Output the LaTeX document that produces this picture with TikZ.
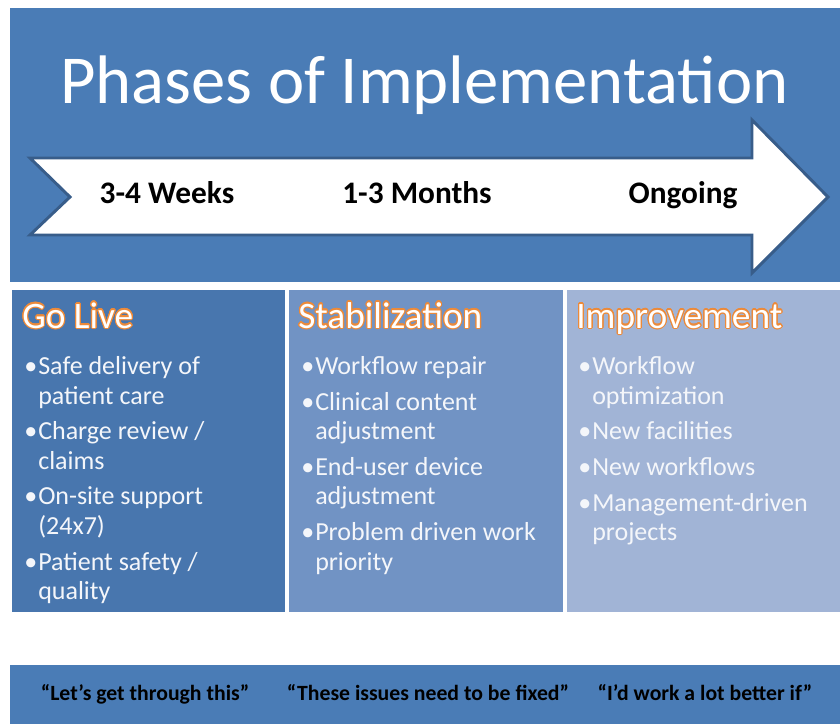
\documentclass[tikz,border=0pt]{standalone}
\usepackage{fontspec}
\setmainfont{Carlito}
\usepackage{contour}
\usetikzlibrary{positioning}
\contourlength{0.9pt}
\contournumber{20}
\definecolor{TopBlue}{RGB}{74,124,182}
\definecolor{EdgeBlue}{RGB}{56,93,138}
\definecolor{LiveBlue}{RGB}{72,118,174}
\definecolor{StabBlue}{RGB}{113,147,196}
\definecolor{ImpBlue}{RGB}{161,180,214}
\definecolor{GlowOrange}{RGB}{236,138,58}
\definecolor{ItemWhite}{RGB}{244,246,250}
% bullet cell and item gap of a phase list
\newcommand{\bul}{\makebox[10.5pt][l]{\textbullet}}
\newcommand{\gap}{\\[4.8pt]}
\newcommand{\phasehead}[1]{\contour{GlowOrange}{\textcolor{white}{#1}}}

\begin{document}
\begin{tikzpicture}[x=0.75pt,y=-0.75pt,
    headtxt/.style={anchor=base west,inner sep=0pt,font=\fontsize{28}{30}\selectfont},
    listtxt/.style={anchor=north west,inner sep=0pt,
      text=ItemWhite,font=\fontsize{19.5}{22}\selectfont},
    steptxt/.style={anchor=base,inner sep=0pt,font=\bfseries\fontsize{23.5}{26}\selectfont},
    quotetxt/.style={anchor=base,inner sep=0pt,font=\bfseries\fontsize{16.3}{18}\selectfont}]
    \useasboundingbox (0,0) rectangle (840,724);
    \fill[white] (0,0) rectangle (840,724);

%   title panel
    \fill[TopBlue] (10,8) rectangle (840,282);
    \node[anchor=base west,inner sep=0pt,text=white,font=\fontsize{51.5}{56}\selectfont]
        (title) at (60,104) {Phases of Implementation};

%   time arrow
    \draw[EdgeBlue,line width=2.2pt,fill=white,line join=miter]
        (30,158) -- (752,158) -- (752,120) -- (828,197) -- (752,273) -- (752,235)
        -- (30,235) -- (70,197) -- cycle;
    \node[steptxt] (weeks)   at (167,204) {3-4 Weeks};
    \node[steptxt] (months)  at (417,204) {1-3 Months};
    \node[steptxt] (ongoing) at (683,204) {Ongoing};

%   phase columns
    \fill[LiveBlue] (12,290) rectangle (285,612);
    \fill[StabBlue] (289,290) rectangle (563,612);
    \fill[ImpBlue]  (567,290) rectangle (840,612);

    \node[headtxt] (golive) at (22,328) {\phasehead{Go Live}};
    \node[headtxt] (stab)   at (298,328) {\phasehead{Stabilization}};
    \node[headtxt] (impr)   at (576,328) {\phasehead{Improvement}};

    \node[listtxt] (golist) at (24,354) {%
        \begin{tabular}{@{}l@{}l@{}}
        \bul & Safe delivery of\\ & patient care\gap
        \bul & Charge review /\\ & claims\gap
        \bul & On-site support\\ & (24x7)\gap
        \bul & Patient safety /\\ & quality
        \end{tabular}};
    \node[listtxt] (stablist) at (301,354) {%
        \begin{tabular}{@{}l@{}l@{}}
        \bul & Workflow repair\gap
        \bul & Clinical content\\ & adjustment\gap
        \bul & End-user device\\ & adjustment\gap
        \bul & Problem driven work\\ & priority
        \end{tabular}};
    \node[listtxt] (implist) at (578,354) {%
        \begin{tabular}{@{}l@{}l@{}}
        \bul & Workflow\\ & optimization\gap
        \bul & New facilities\gap
        \bul & New workflows\gap
        \bul & Management-driven\\ & projects
        \end{tabular}};

%   quote bar
    \fill[TopBlue] (10,665) rectangle (840,724);
    \node[quotetxt] (q1) at (145,700) {“Let’s get through this”};
    \node[quotetxt] (q2) at (428,700) {“These issues need to be fixed”};
    \node[quotetxt] (q3) at (705,700) {“I’d work a lot better if”};
\end{tikzpicture}
\end{document}
